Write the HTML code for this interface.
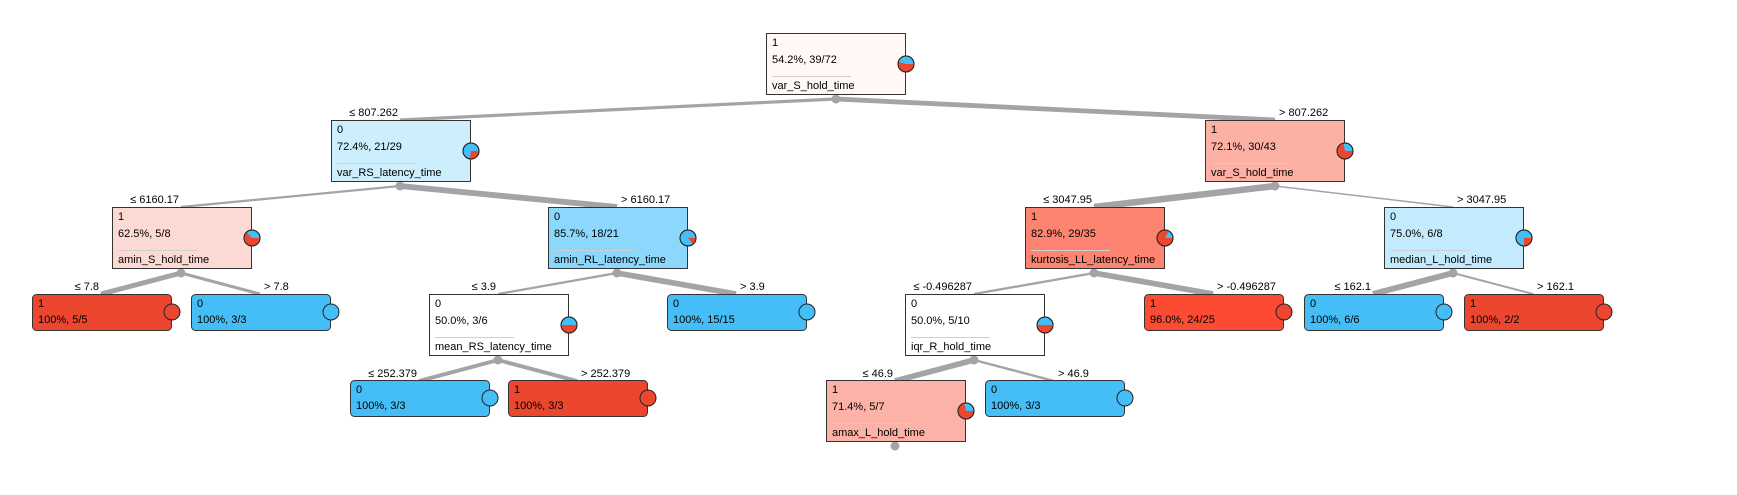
<!DOCTYPE html>
<html><head><meta charset="utf-8"><style>
html,body{margin:0;padding:0;background:#fff;}
svg{display:block;font-family:"Liberation Sans",sans-serif;font-size:11px;}
</style></head><body>
<svg width="1737" height="495" viewBox="0 0 1737 495" xmlns="http://www.w3.org/2000/svg">
<g stroke="#a3a3a8" stroke-linecap="butt" fill="none">
<line x1="836" y1="99" x2="400" y2="120" stroke-width="3.2"/>
<line x1="836" y1="99" x2="1275" y2="120" stroke-width="4.8"/>
<line x1="400" y1="186" x2="181" y2="207" stroke-width="2.2"/>
<line x1="400" y1="186" x2="617" y2="207" stroke-width="5.8"/>
<line x1="1275" y1="186" x2="1094" y2="207" stroke-width="6.5"/>
<line x1="1275" y1="186" x2="1453" y2="207" stroke-width="1.5"/>
<line x1="181" y1="273" x2="101" y2="294" stroke-width="5"/>
<line x1="181" y1="273" x2="260" y2="294" stroke-width="3"/>
<line x1="617" y1="273" x2="498" y2="294" stroke-width="2.3"/>
<line x1="617" y1="273" x2="736" y2="294" stroke-width="5.7"/>
<line x1="1094" y1="273" x2="974" y2="294" stroke-width="2.3"/>
<line x1="1094" y1="273" x2="1213" y2="294" stroke-width="5.7"/>
<line x1="1453" y1="273" x2="1373" y2="294" stroke-width="6"/>
<line x1="1453" y1="273" x2="1533" y2="294" stroke-width="2"/>
<line x1="498" y1="360" x2="419" y2="381" stroke-width="4"/>
<line x1="498" y1="360" x2="577" y2="381" stroke-width="4"/>
<line x1="974" y1="360" x2="895" y2="381" stroke-width="5.6"/>
<line x1="974" y1="360" x2="1054" y2="381" stroke-width="2.4"/>
</g>
<g fill="#a3a3a8">
<circle cx="836" cy="99" r="4.5"/><circle cx="400" cy="186" r="4.5"/><circle cx="1275" cy="186" r="4.5"/>
<circle cx="181" cy="273" r="4.5"/><circle cx="617" cy="273" r="4.5"/><circle cx="1094" cy="273" r="4.5"/>
<circle cx="1453" cy="273" r="4.5"/><circle cx="498" cy="360" r="4.5"/><circle cx="974" cy="360" r="4.5"/>
<circle cx="895" cy="446" r="4.5"/>
</g>
<g fill="#000">
<text x="398" y="116" text-anchor="end">≤ 807.262</text>
<text x="1279" y="116">&gt; 807.262</text>
<text x="179" y="203" text-anchor="end">≤ 6160.17</text>
<text x="621" y="203">&gt; 6160.17</text>
<text x="1092" y="203" text-anchor="end">≤ 3047.95</text>
<text x="1457" y="203">&gt; 3047.95</text>
<text x="99" y="290" text-anchor="end">≤ 7.8</text>
<text x="264" y="290">&gt; 7.8</text>
<text x="496" y="290" text-anchor="end">≤ 3.9</text>
<text x="740" y="290">&gt; 3.9</text>
<text x="972" y="290" text-anchor="end">≤ -0.496287</text>
<text x="1217" y="290">&gt; -0.496287</text>
<text x="1371" y="290" text-anchor="end">≤ 162.1</text>
<text x="1537" y="290">&gt; 162.1</text>
<text x="417" y="377" text-anchor="end">≤ 252.379</text>
<text x="581" y="377">&gt; 252.379</text>
<text x="893" y="377" text-anchor="end">≤ 46.9</text>
<text x="1058" y="377">&gt; 46.9</text>
</g>

<!-- internal nodes -->
<g stroke="#333" stroke-width="1">
<rect x="766.5" y="33.5" width="139" height="61" fill="#fff8f5"/>
<rect x="331.5" y="120.5" width="139" height="61" fill="#cdeefd"/>
<rect x="1205.5" y="120.5" width="139" height="61" fill="#fdb1a5"/>
<rect x="112.5" y="207.5" width="139" height="61" fill="#fdd9d3"/>
<rect x="548.5" y="207.5" width="139" height="61" fill="#8cd8fc"/>
<rect x="1025.5" y="207.5" width="139" height="61" fill="#fd8470"/>
<rect x="1384.5" y="207.5" width="139" height="61" fill="#c3eafd"/>
<rect x="429.5" y="294.5" width="139" height="61" fill="#ffffff"/>
<rect x="905.5" y="294.5" width="139" height="61" fill="#ffffff"/>
<rect x="826.5" y="380.5" width="139" height="61" fill="#fdb2a7"/>
</g>
<g stroke="#cfcfcf" stroke-width="1">
<line x1="772" y1="76.5" x2="851" y2="76.5"/>
<line x1="337" y1="163.5" x2="416" y2="163.5"/>
<line x1="1211" y1="163.5" x2="1290" y2="163.5"/>
<line x1="118" y1="250.5" x2="197" y2="250.5"/>
<line x1="554" y1="250.5" x2="633" y2="250.5"/>
<line x1="1031" y1="250.5" x2="1110" y2="250.5"/>
<line x1="1390" y1="250.5" x2="1469" y2="250.5"/>
<line x1="435" y1="337.5" x2="514" y2="337.5"/>
<line x1="911" y1="337.5" x2="990" y2="337.5"/>
<line x1="832" y1="423.5" x2="911" y2="423.5"/>
</g>
<g fill="#000">
<text x="772" y="46">1</text><text x="772" y="63">54.2%, 39/72</text><text x="772" y="89">var_S_hold_time</text>
<text x="337" y="133">0</text><text x="337" y="150">72.4%, 21/29</text><text x="337" y="176">var_RS_latency_time</text>
<text x="1211" y="133">1</text><text x="1211" y="150">72.1%, 30/43</text><text x="1211" y="176">var_S_hold_time</text>
<text x="118" y="220">1</text><text x="118" y="237">62.5%, 5/8</text><text x="118" y="263">amin_S_hold_time</text>
<text x="554" y="220">0</text><text x="554" y="237">85.7%, 18/21</text><text x="554" y="263">amin_RL_latency_time</text>
<text x="1031" y="220">1</text><text x="1031" y="237">82.9%, 29/35</text><text x="1031" y="263">kurtosis_LL_latency_time</text>
<text x="1390" y="220">0</text><text x="1390" y="237">75.0%, 6/8</text><text x="1390" y="263">median_L_hold_time</text>
<text x="435" y="307">0</text><text x="435" y="324">50.0%, 3/6</text><text x="435" y="350">mean_RS_latency_time</text>
<text x="911" y="307">0</text><text x="911" y="324">50.0%, 5/10</text><text x="911" y="350">iqr_R_hold_time</text>
<text x="832" y="393">1</text><text x="832" y="410">71.4%, 5/7</text><text x="832" y="436">amax_L_hold_time</text>
</g>

<!-- leaves -->
<g stroke="#333" stroke-width="1">
<rect x="32.5" y="294.5" width="139" height="36" rx="4" fill="#ec462f"/>
<rect x="191.5" y="294.5" width="139" height="36" rx="4" fill="#45bef8"/>
<rect x="667.5" y="294.5" width="139" height="36" rx="4" fill="#45bef8"/>
<rect x="1144.5" y="294.5" width="139" height="36" rx="4" fill="#fd4a33"/>
<rect x="1304.5" y="294.5" width="139" height="36" rx="4" fill="#45bef8"/>
<rect x="1464.5" y="294.5" width="139" height="36" rx="4" fill="#ec462f"/>
<rect x="350.5" y="380.5" width="139" height="36" rx="4" fill="#45bef8"/>
<rect x="508.5" y="380.5" width="139" height="36" rx="4" fill="#ec462f"/>
<rect x="985.5" y="380.5" width="139" height="36" rx="4" fill="#45bef8"/>
</g>
<g fill="#000">
<text x="38" y="307">1</text><text x="38" y="323">100%, 5/5</text>
<text x="197" y="307">0</text><text x="197" y="323">100%, 3/3</text>
<text x="673" y="307">0</text><text x="673" y="323">100%, 15/15</text>
<text x="1150" y="307">1</text><text x="1150" y="323">96.0%, 24/25</text>
<text x="1310" y="307">0</text><text x="1310" y="323">100%, 6/6</text>
<text x="1470" y="307">1</text><text x="1470" y="323">100%, 2/2</text>
<text x="356" y="393">0</text><text x="356" y="409">100%, 3/3</text>
<text x="514" y="393">1</text><text x="514" y="409">100%, 3/3</text>
<text x="991" y="393">0</text><text x="991" y="409">100%, 3/3</text>
</g>

<!-- pies -->
<g stroke="#222" stroke-width="1">
<circle cx="906" cy="64" r="8" fill="#45bef8"/>
<path d="M906 64 L914 64 A8 8 0 1 1 898.27 61.93 Z" fill="#ec462f" stroke="none"/>
<circle cx="906" cy="64" r="8" fill="none"/>

<circle cx="471" cy="151" r="8" fill="#45bef8"/>
<path d="M471 151 L479 151 A8 8 0 0 1 469.7 158.89 Z" fill="#ec462f" stroke="none"/>
<circle cx="471" cy="151" r="8" fill="none"/>

<circle cx="1345" cy="151" r="8" fill="#45bef8"/>
<path d="M1345 151 L1353 151 A8 8 0 1 1 1343.54 143.13 Z" fill="#ec462f" stroke="none"/>
<circle cx="1345" cy="151" r="8" fill="none"/>

<circle cx="252" cy="238" r="8" fill="#45bef8"/>
<path d="M252 238 L260 238 A8 8 0 1 1 246.34 232.34 Z" fill="#ec462f" stroke="none"/>
<circle cx="252" cy="238" r="8" fill="none"/>

<circle cx="688" cy="238" r="8" fill="#45bef8"/>
<path d="M688 238 L696 238 A8 8 0 0 1 692.98 244.25 Z" fill="#ec462f" stroke="none"/>
<circle cx="688" cy="238" r="8" fill="none"/>

<circle cx="1165" cy="238" r="8" fill="#45bef8"/>
<path d="M1165 238 L1173 238 A8 8 0 1 1 1168.83 230.98 Z" fill="#ec462f" stroke="none"/>
<circle cx="1165" cy="238" r="8" fill="none"/>

<circle cx="1524" cy="238" r="8" fill="#45bef8"/>
<path d="M1524 238 L1532 238 A8 8 0 0 1 1524 246 Z" fill="#ec462f" stroke="none"/>
<circle cx="1524" cy="238" r="8" fill="none"/>

<circle cx="569" cy="325" r="8" fill="#45bef8"/>
<path d="M569 325 L577 325 A8 8 0 0 1 561 325 Z" fill="#ec462f" stroke="none"/>
<circle cx="569" cy="325" r="8" fill="none"/>

<circle cx="1045" cy="325" r="8" fill="#45bef8"/>
<path d="M1045 325 L1053 325 A8 8 0 0 1 1037 325 Z" fill="#ec462f" stroke="none"/>
<circle cx="1045" cy="325" r="8" fill="none"/>

<circle cx="966" cy="411" r="8" fill="#45bef8"/>
<path d="M966 411 L974 411 A8 8 0 1 1 964.2 403.21 Z" fill="#ec462f" stroke="none"/>
<circle cx="966" cy="411" r="8" fill="none"/>

<circle cx="172" cy="312" r="8" fill="#ec462f"/>
<circle cx="331" cy="312" r="8" fill="#45bef8"/>
<circle cx="807" cy="312" r="8" fill="#45bef8"/>
<circle cx="1284" cy="312" r="8" fill="#ec462f"/>
<circle cx="1444" cy="312" r="8" fill="#45bef8"/>
<circle cx="1604" cy="312" r="8" fill="#ec462f"/>
<circle cx="490" cy="398" r="8" fill="#45bef8"/>
<circle cx="648" cy="398" r="8" fill="#ec462f"/>
<circle cx="1125" cy="398" r="8" fill="#45bef8"/>
</g>
</svg>
</body></html>
